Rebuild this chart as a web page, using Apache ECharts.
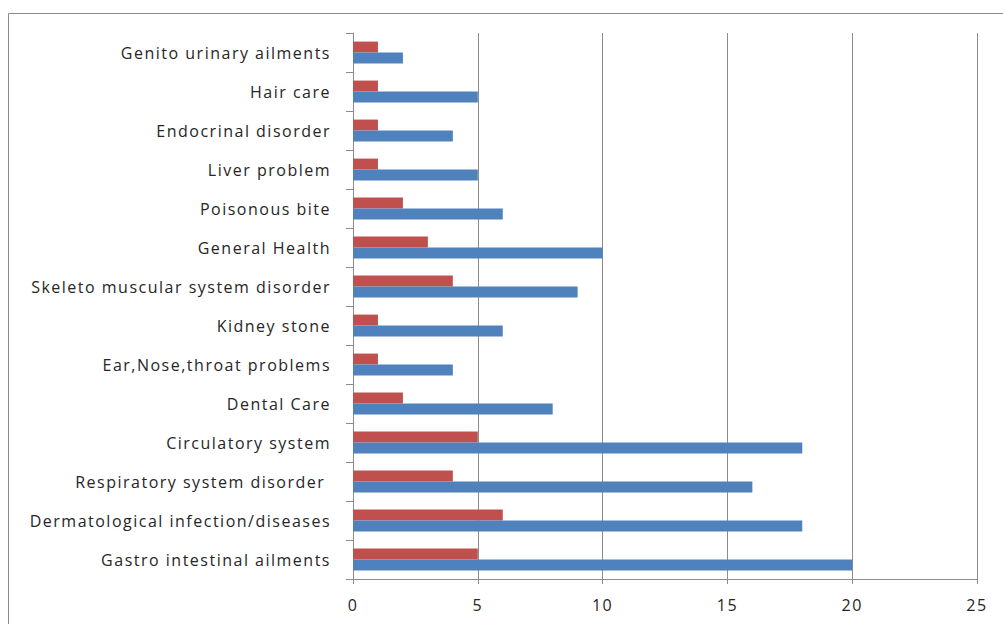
<!DOCTYPE html>
<html>
<head>
<meta charset="utf-8">
<script src="https://cdn.jsdelivr.net/npm/echarts@6/dist/echarts.min.js"></script>
<style>
  html, body { margin: 0; padding: 0; background: #fff; }
  #chart { width: 1003px; height: 624px; }
  /* wide tracking on the axis labels */
  #chart svg text { letter-spacing: 1.5px; }
</style>
</head>
<body>
<div id="chart"></div>
<script>
// Ailment categories, listed bottom to top along the vertical axis
const categories = [
  'Gastro intestinal ailments',
  'Dermatological infection/diseases',
  'Respiratory system disorder ',
  'Circulatory system',
  'Dental Care',
  'Ear,Nose,throat problems',
  'Kidney stone',
  'Skeleto muscular system disorder',
  'General Health',
  'Poisonous bite',
  'Liver problem',
  'Endocrinal disorder',
  'Hair care',
  'Genito urinary ailments'
];

// Red series (upper bar in each group)
const redValues = [5, 6, 4, 5, 2, 1, 1, 4, 3, 2, 1, 1, 1, 1];
// Blue series (lower bar in each group)
const blueValues = [20, 18, 16, 18, 8, 4, 6, 9, 10, 6, 5, 4, 5, 2];

// Value axis ticks
const xMin = 0, xMax = 25, xStep = 5;

const chart = echarts.init(document.getElementById('chart'), null, { renderer: 'svg' });

const font = '"Open Sans", "DejaVu Sans", sans-serif';

chart.setOption({
  animation: false,
  backgroundColor: '#ffffff',
  graphic: [{
    type: 'rect',
    shape: { x: 8.5, y: 13.5, width: 1200, height: 800 },
    style: { fill: 'none', stroke: '#8c8c8c', lineWidth: 1 },
    silent: true,
    z: -10
  }],
  grid: { left: 353, right: 26, top: 33, bottom: 45, containLabel: false },
  xAxis: {
    type: 'value',
    min: xMin, max: xMax, interval: xStep,
    axisLine: { show: true, lineStyle: { color: '#8c8c8c', width: 1 } },
    axisTick: { show: true, length: 5, lineStyle: { color: '#8c8c8c' } },
    splitLine: { show: true, lineStyle: { color: '#8c8c8c', width: 1 } },
    axisLabel: { color: '#262626', fontFamily: font, fontSize: 16, margin: 18 }
  },
  yAxis: {
    type: 'category',
    data: categories,
    axisLine: { show: true, lineStyle: { color: '#8c8c8c', width: 1 } },
    axisTick: { show: true, length: 7, alignWithLabel: false, lineStyle: { color: '#8c8c8c' } },
    axisLabel: {
      color: '#262626', fontFamily: font, fontSize: 16, margin: 22,
      padding: [0, 0, 6, 0]
    }
  },
  series: [
    {
      name: 'Red',
      type: 'bar',
      data: redValues,
      itemStyle: { color: '#c0504d' },
      barGap: '0%',
      barCategoryGap: '44%'
    },
    {
      name: 'Blue',
      type: 'bar',
      data: blueValues,
      itemStyle: { color: '#4f81bd' },
      barGap: '0%',
      barCategoryGap: '44%'
    }
  ]
});
</script>
</body>
</html>
